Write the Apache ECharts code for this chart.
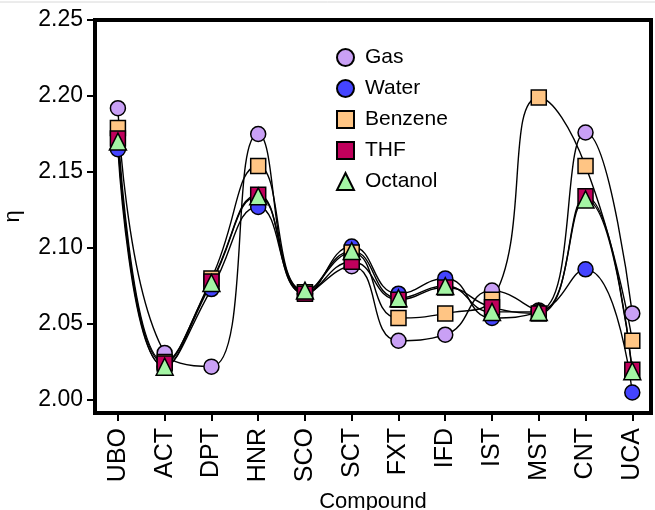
<!DOCTYPE html>
<html>
<head>
<meta charset="utf-8">
<script src="https://cdn.jsdelivr.net/npm/echarts@6/dist/echarts.min.js"></script>
<style>
  html, body { margin: 0; padding: 0; background: #fff; }
  #chart { width: 655px; height: 510px; }
</style>
</head>
<body>
<div id="chart"></div>
<script>
// compounds along x
var compounds = ['UBO', 'ACT', 'DPT', 'HNR', 'SCO', 'SCT', 'FXT', 'IFD', 'IST', 'MST', 'CNT', 'UCA']
var yTicks = [2.00, 2.05, 2.10, 2.15, 2.20, 2.25]

// eta per solvent
var gas     = [2.192, 2.031, 2.022, 2.175, 2.070, 2.088, 2.039, 2.043, 2.072, 2.059, 2.176, 2.057]
var water   = [2.165, 2.022, 2.073, 2.127, 2.070, 2.101, 2.070, 2.080, 2.054, 2.058, 2.086, 2.005]
var benzene = [2.179, 2.025, 2.080, 2.154, 2.071, 2.097, 2.054, 2.057, 2.066, 2.199, 2.154, 2.039]
var thf     = [2.172, 2.024, 2.078, 2.135, 2.070, 2.091, 2.066, 2.074, 2.061, 2.057, 2.134, 2.020]
var octanol = [2.170, 2.022, 2.077, 2.134, 2.072, 2.098, 2.067, 2.075, 2.058, 2.058, 2.132, 2.019]

var solvents = [
  { name: 'Gas', data: gas, symbol: 'circle', color: '#c9a0f5' },
  { name: 'Water', data: water, symbol: 'circle', color: '#4444ff' },
  { name: 'Benzene', data: benzene, symbol: 'rect', color: '#ffc584' },
  { name: 'THF', data: thf, symbol: 'rect', color: '#c0005c' },
  { name: 'Octanol', data: octanol, symbol: 'triangle', color: '#a4f5a4' }
]

var font = 'Liberation Sans'
var series = []

// lines first, then markers on top
solvents.forEach(function (s) {
  series.push({
    name: s.name + ' line',
    type: 'line',
    smooth: 0.5,
    showSymbol: false,
    silent: true,
    z: 2,
    lineStyle: { color: '#000', width: 1.4 },
    data: s.data.map(function (v, i) { return [i, v] })
  })
})
solvents.forEach(function (s) {
  series.push({
    name: s.name,
    type: 'scatter',
    symbol: s.symbol,
    symbolSize: s.symbol === 'triangle' ? 17 : 15,
    z: 3,
    itemStyle: { color: s.color, borderColor: '#000', borderWidth: 1.5, opacity: 1 },
    data: s.data.map(function (v, i) { return [i, v] })
  })
})

var tickIdx = compounds.map(function (c, i) { return i })

var option = {
  animation: false,
  backgroundColor: '#fff',
  textStyle: { fontFamily: font },
  graphic: [{
    type: 'line',
    shape: { x1: 0, y1: 2, x2: 655, y2: 2 },
    style: { stroke: '#d8d8d8', lineWidth: 1 }
  }],
  grid: {
    left: 95,
    top: 20,
    right: 4,
    bottom: 97,
    outerBoundsMode: 'none',
    containLabel: false,
    show: true,
    borderColor: '#000',
    borderWidth: 4
  },
  legend: {
    orient: 'vertical',
    left: 331,
    top: 42,
    itemGap: 10,
    itemWidth: 17,
    itemHeight: 17,
    data: ['Gas', 'Water', 'Benzene', 'THF', 'Octanol'],
    textStyle: { fontSize: 21, color: '#000', fontFamily: font, padding: [0, 0, 0, 6] }
  },
  xAxis: {
    type: 'value',
    min: -0.49,
    max: 11.4,
    name: 'Compound',
    nameLocation: 'middle',
    nameGap: 78,
    nameMoveOverlap: false,
    nameTextStyle: { fontSize: 22, color: '#000', fontFamily: font },
    axisLine: { show: true, onZero: false, lineStyle: { color: '#000', width: 4 } },
    splitLine: { show: false },
    axisTick: {
      show: true,
      length: 8,
      lineStyle: { color: '#000', width: 2 },
      customValues: tickIdx
    },
    axisLabel: {
      rotate: 90,
      margin: 15,
      fontSize: 25,
      color: '#000',
      fontFamily: font,
      customValues: tickIdx,
      formatter: function (v) { return compounds[Math.round(v)] }
    }
  },
  yAxis: {
    type: 'value',
    min: 1.9915,
    max: 2.25,
    name: 'η',
    nameLocation: 'middle',
    nameGap: 71,
    nameMoveOverlap: false,
    nameTextStyle: { fontSize: 22, color: '#000', fontFamily: font },
    axisLine: { show: true, onZero: false, lineStyle: { color: '#000', width: 4 } },
    splitLine: { show: false },
    axisTick: {
      show: true,
      length: 8,
      lineStyle: { color: '#000', width: 2 },
      customValues: yTicks
    },
    axisLabel: {
      margin: 12,
      fontSize: 23,
      color: '#000',
      fontFamily: font,
      customValues: yTicks,
      formatter: function (v) { return v.toFixed(2) }
    }
  },
  series: series
}

var chart = echarts.init(document.getElementById('chart'))
chart.setOption(option)
</script>
</body>
</html>
